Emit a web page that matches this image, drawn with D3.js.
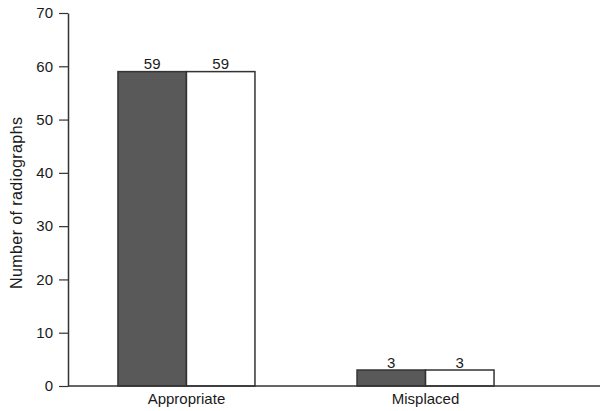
<!DOCTYPE html>
<html><head><meta charset="utf-8">
<script src="https://cdn.jsdelivr.net/npm/d3@7"></script>
<style>body{margin:0;background:#fff}svg{display:block;font-family:"Liberation Sans",Arial,sans-serif}</style>
</head><body><svg id="c" width="606" height="411"></svg>
<script>
const categories = ["Appropriate", "Misplaced"];
const series = ["Group A", "Group B"];
const valuesA = [59, 3];
const valuesB = [59, 3];
const yTicks = [0, 10, 20, 30, 40, 50, 60, 70];
const yTitle = "Number of radiographs";

const svg = d3.select("#c");
const W = 606, H = 411;
const m = {left: 68, right: 6, top: 13, bottom: 25};
const y = d3.scaleLinear().domain([0, 70]).range([H - m.bottom, m.top]);
const x0 = d3.scaleBand().domain(categories).range([m.left, 544]).paddingInner(0.427).paddingOuter(0.209);
const x1 = d3.scaleBand().domain(series).range([0, x0.bandwidth()]);
const fills = ["#595959", "#ffffff"];
const data = categories.map((c, i) => ({cat: c, vals: [valuesA[i], valuesB[i]]}));

const g = svg.append("g").selectAll("g").data(data).join("g")
  .attr("transform", d => `translate(${x0(d.cat)},0)`);
g.selectAll("rect").data(d => d.vals.map((v, j) => ({v, s: series[j], j}))).join("rect")
  .attr("x", d => x1(d.s)).attr("y", d => y(d.v))
  .attr("width", x1.bandwidth()).attr("height", d => y(0) - y(d.v))
  .attr("fill", d => fills[d.j]).attr("stroke", "#333").attr("stroke-width", 1.5);
g.selectAll("text").data(d => d.vals.map((v, j) => ({v, s: series[j]}))).join("text")
  .attr("x", d => x1(d.s) + x1.bandwidth() / 2).attr("y", d => y(d.v) - 2.5)
  .attr("text-anchor", "middle").attr("font-size", 15).attr("fill", "#1a1a1a").text(d => d.v);

const ya = svg.append("g").attr("transform", `translate(${m.left},0)`)
  .call(d3.axisLeft(y).tickValues(yTicks).tickSize(9).tickPadding(6).tickSizeOuter(0));
ya.select(".domain").attr("stroke", "#333").attr("stroke-width", 1.5);
ya.selectAll(".tick line").attr("stroke", "#333").attr("stroke-width", 1.2);
ya.selectAll(".tick text").attr("font-size", 15).attr("fill", "#1a1a1a").attr("font-family", "Liberation Sans, Arial, sans-serif");

svg.append("line").attr("x1", m.left).attr("x2", W - m.right).attr("y1", y(0)).attr("y2", y(0))
  .attr("stroke", "#333").attr("stroke-width", 1.5);

svg.append("g").selectAll("text").data(categories).join("text")
  .attr("x", d => x0(d) + x0.bandwidth() / 2).attr("y", y(0) + 18)
  .attr("text-anchor", "middle").attr("font-size", 15).attr("fill", "#1a1a1a").text(d => d);

svg.append("text").attr("transform", `translate(22,203) rotate(-90)`)
  .attr("text-anchor", "middle").attr("font-size", 16).attr("fill", "#1a1a1a")
  .attr("textLength", 172).attr("lengthAdjust", "spacing").text(yTitle);
</script></body></html>
